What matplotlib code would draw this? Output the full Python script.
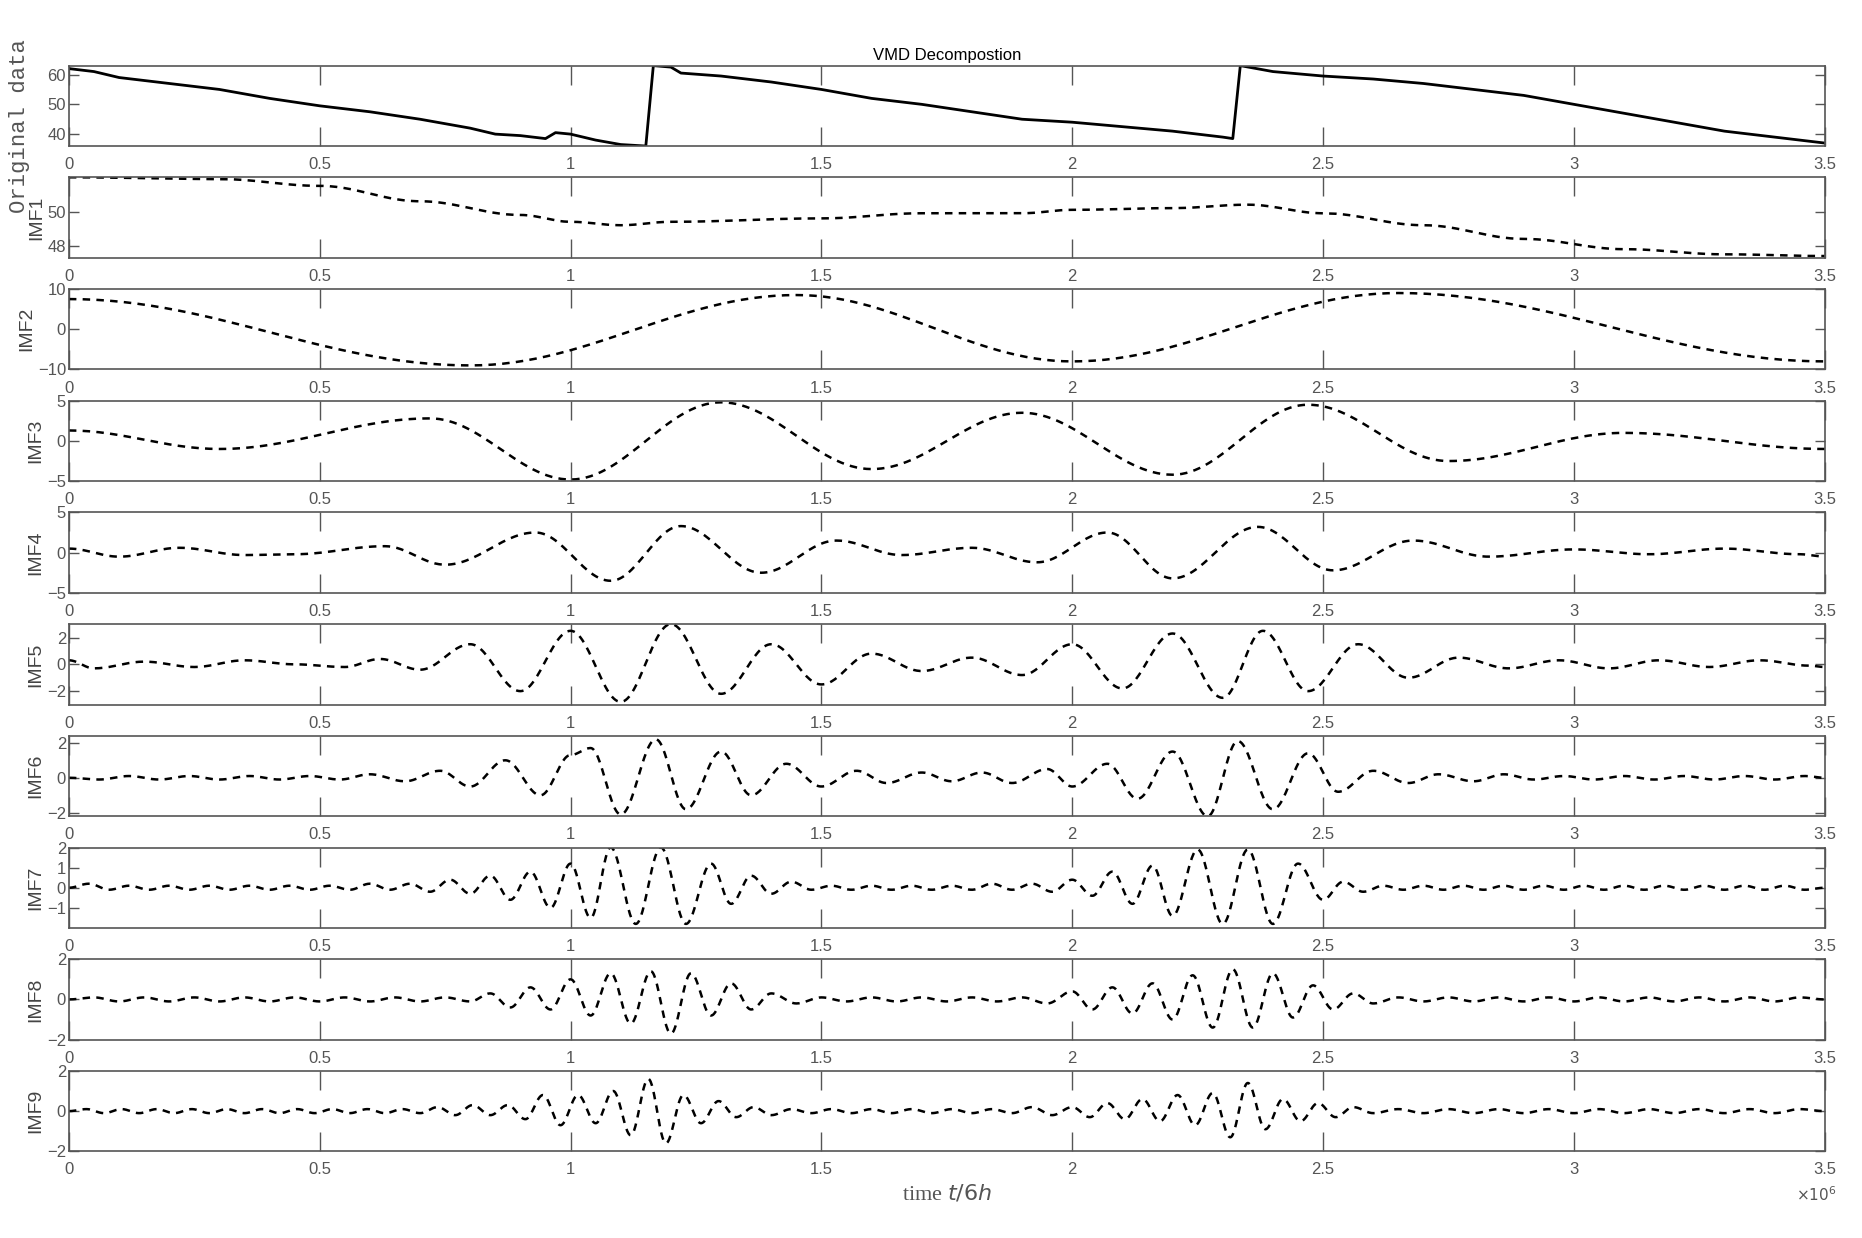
import numpy as np
import matplotlib.pyplot as plt

# ---- data (x in units of 1e6, 6h steps) ----
orig_x = [0, 0.05, 0.1, 0.2, 0.3, 0.4, 0.5, 0.6, 0.7, 0.8, 0.85, 0.9, 0.95, 0.97, 1.0, 1.05, 1.1, 1.15,
          1.165, 1.2, 1.22, 1.3, 1.4, 1.5, 1.6, 1.7, 1.8, 1.9, 2.0, 2.1, 2.2, 2.3, 2.32,
          2.335, 2.4, 2.5, 2.6, 2.7, 2.8, 2.9, 3.0, 3.1, 3.2, 3.3, 3.4, 3.5]
orig_y = [62, 61, 59, 57, 55, 52, 49.5, 47.5, 45, 42, 40, 39.5, 38.5, 40.5, 40, 38, 36.5, 36,
          63, 62.5, 60.5, 59.5, 57.5, 55, 52, 50, 47.5, 45, 44, 42.5, 41, 39, 38.5,
          63, 61, 59.5, 58.5, 57, 55, 53, 50, 47, 44, 41, 39, 37]

imf1_x = [0, 0.3, 0.5, 0.7, 0.9, 1.0, 1.1, 1.2, 1.5, 1.7, 1.9, 2.0, 2.2, 2.35, 2.5, 2.7, 2.9, 3.1, 3.3, 3.5]
imf1_y = [52, 51.9, 51.5, 50.6, 49.8, 49.4, 49.2, 49.4, 49.6, 49.9, 49.9, 50.1, 50.2, 50.4, 49.9, 49.2, 48.4, 47.8, 47.5, 47.4]

imf2_x = [0, 0.8, 1.45, 2.0, 2.65, 3.5]
imf2_y = [7.5, -9, 8.5, -8, 9, -8]

imf3_x = [0, 0.3, 0.72, 1.0, 1.3, 1.6, 1.9, 2.2, 2.47, 2.75, 3.1, 3.5]
imf3_y = [1.3, -1, 2.8, -4.8, 4.8, -3.5, 3.5, -4.2, 4.5, -2.5, 1, -1]

imf4_x = [0, 0.1, 0.22, 0.35, 0.45, 0.63, 0.75, 0.93, 1.08, 1.22, 1.38, 1.53, 1.66, 1.8, 1.93,
          2.07, 2.2, 2.37, 2.52, 2.68, 2.83, 3.0, 3.15, 3.3, 3.45, 3.5]
imf4_y = [0.5, -0.5, 0.6, -0.3, -0.2, 0.8, -1.5, 2.5, -3.5, 3.3, -2.5, 1.5, -0.3, 0.6, -1.2,
          2.5, -3.2, 3.2, -2.2, 1.5, -0.5, 0.4, -0.2, 0.5, -0.2, -0.5]

imf5_x = [0, 0.05, 0.15, 0.25, 0.35, 0.45, 0.55, 0.62, 0.7, 0.8, 0.9, 1.0, 1.1, 1.2, 1.3, 1.4, 1.5,
          1.6, 1.7, 1.8, 1.9, 2.0, 2.1, 2.2, 2.3, 2.38, 2.47, 2.57, 2.67, 2.77, 2.87, 2.97, 3.07,
          3.17, 3.27, 3.37, 3.47, 3.5]
imf5_y = [0.3, -0.3, 0.2, -0.2, 0.3, 0, -0.2, 0.4, -0.4, 1.5, -2, 2.5, -2.8, 3, -2.2, 1.5, -1.5,
          0.8, -0.5, 0.5, -0.8, 1.5, -1.8, 2.3, -2.5, 2.5, -2, 1.5, -1, 0.5, -0.3, 0.3, -0.3,
          0.3, -0.2, 0.3, -0.1, -0.2]

imf6_x = [0, 0.06, 0.12, 0.18, 0.24, 0.3, 0.36, 0.42, 0.48, 0.54, 0.6, 0.67, 0.74, 0.8, 0.87, 0.94,
          1.0, 1.04, 1.1, 1.17, 1.23, 1.3, 1.36, 1.43, 1.5, 1.57, 1.63, 1.7, 1.76, 1.82, 1.88, 1.95,
          2.0, 2.07, 2.13, 2.2, 2.27, 2.33, 2.4, 2.47, 2.53, 2.6, 2.67, 2.73, 2.8, 2.86, 2.92, 2.98,
          3.04, 3.1, 3.16, 3.22, 3.28, 3.34, 3.4, 3.46, 3.5]
imf6_y = [0, -0.1, 0.1, -0.1, 0.1, -0.1, 0.1, -0.1, 0.1, -0.1, 0.2, -0.2, 0.4, -0.5, 1, -1,
          1.3, 1.7, -2.1, 2.2, -1.8, 1.5, -1, 0.8, -0.5, 0.4, -0.3, 0.3, -0.2, 0.3, -0.3, 0.5,
          -0.5, 0.8, -1.2, 1.5, -2.2, 2.1, -1.8, 1.4, -0.8, 0.4, -0.3, 0.2, -0.2, 0.2, -0.1, 0.1,
          -0.1, 0.1, -0.1, 0.1, -0.1, 0.1, -0.1, 0.1, 0]

imf7_x = [0, 0.04, 0.08, 0.12, 0.16, 0.2, 0.24, 0.28, 0.32, 0.36, 0.4, 0.44, 0.48, 0.52, 0.56, 0.6,
          0.64, 0.68, 0.72, 0.76, 0.8, 0.84, 0.88, 0.92, 0.96, 1.0, 1.04, 1.08, 1.13, 1.18, 1.23,
          1.28, 1.32, 1.36, 1.4, 1.44, 1.48, 1.52, 1.56, 1.6, 1.64, 1.68, 1.72, 1.76, 1.8, 1.84,
          1.88, 1.92, 1.96, 2.0, 2.04, 2.08, 2.12, 2.16, 2.2, 2.25, 2.3, 2.35, 2.4, 2.45, 2.5,
          2.54, 2.58, 2.62, 2.66, 2.7, 2.74, 2.78, 2.82, 2.86, 2.9, 2.94, 2.98, 3.02, 3.06, 3.1,
          3.14, 3.18, 3.22, 3.26, 3.3, 3.34, 3.38, 3.42, 3.46, 3.5]
imf7_y = [0, 0.2, -0.1, 0.1, -0.1, 0.1, -0.1, 0.1, -0.1, 0.1, -0.1, 0.1, -0.1, 0.1, -0.1, 0.2,
          -0.1, 0.2, -0.2, 0.4, -0.3, 0.6, -0.6, 0.8, -1, 1.2, -1.5, 2, -1.8, 2, -1.8,
          1.2, -0.8, 0.6, -0.3, 0.3, -0.1, 0.1, -0.1, 0.1, -0.1, 0.1, -0.1, 0.1, -0.1, 0.2,
          -0.1, 0.2, -0.2, 0.4, -0.4, 0.8, -0.8, 1.1, -1.4, 1.9, -1.8, 1.9, -1.8, 1.2, -0.6,
          0.3, -0.2, 0.1, -0.1, 0.1, -0.1, 0.1, -0.1, 0.1, -0.1, 0.1, -0.1, 0.1, -0.1, 0.1,
          -0.1, 0.1, -0.1, 0.1, -0.1, 0.1, -0.1, 0.1, -0.1, 0]

imf8_x = [0, 0.05, 0.1, 0.15, 0.2, 0.25, 0.3, 0.35, 0.4, 0.45, 0.5, 0.55, 0.6, 0.65, 0.7, 0.75,
          0.8, 0.84, 0.88, 0.92, 0.96, 1.0, 1.04, 1.08, 1.12, 1.16, 1.2, 1.24, 1.28, 1.32, 1.36,
          1.4, 1.45, 1.5, 1.55, 1.6, 1.65, 1.7, 1.75, 1.8, 1.85, 1.9, 1.95, 2.0, 2.04, 2.08,
          2.12, 2.16, 2.2, 2.24, 2.28, 2.32, 2.36, 2.4, 2.44, 2.48, 2.52, 2.56, 2.6, 2.65, 2.7,
          2.75, 2.8, 2.85, 2.9, 2.95, 3.0, 3.05, 3.1, 3.15, 3.2, 3.25, 3.3, 3.35, 3.4, 3.45, 3.5]
imf8_y = [0, 0.1, -0.1, 0.1, -0.1, 0.1, -0.1, 0.1, -0.1, 0.1, -0.1, 0.1, -0.1, 0.1, -0.1, 0.1,
          -0.1, 0.3, -0.4, 0.6, -0.5, 1, -0.8, 1.3, -1.2, 1.4, -1.7, 1.3, -0.8, 0.8, -0.5,
          0.3, -0.2, 0.1, -0.1, 0.1, -0.1, 0.1, -0.1, 0.1, -0.1, 0.1, -0.2, 0.4, -0.5, 0.6,
          -0.7, 0.8, -1, 1.2, -1.4, 1.5, -1.4, 1.3, -0.9, 0.7, -0.5, 0.3, -0.2, 0.1, -0.1,
          0.1, -0.1, 0.1, -0.1, 0.1, -0.1, 0.1, -0.1, 0.1, -0.1, 0.1, -0.1, 0.1, -0.1, 0.1, 0]

imf9_x = [0, 0.035, 0.07, 0.105, 0.14, 0.175, 0.21, 0.245, 0.28, 0.315, 0.35, 0.385, 0.42, 0.455,
          0.49, 0.525, 0.56, 0.595, 0.63, 0.665, 0.7, 0.735, 0.77, 0.805, 0.84, 0.875, 0.91,
          0.945, 0.98, 1.015, 1.05, 1.085, 1.12, 1.155, 1.19, 1.225, 1.26, 1.295, 1.33, 1.365,
          1.4, 1.44, 1.48, 1.52, 1.56, 1.6, 1.64, 1.68, 1.72, 1.76, 1.8, 1.84, 1.88, 1.92, 1.96,
          2.0, 2.035, 2.07, 2.105, 2.14, 2.175, 2.21, 2.245, 2.28, 2.315, 2.35, 2.385, 2.42,
          2.455, 2.49, 2.525, 2.56, 2.6, 2.65, 2.7, 2.75, 2.8, 2.85, 2.9, 2.95, 3.0, 3.05, 3.1,
          3.15, 3.2, 3.25, 3.3, 3.35, 3.4, 3.45, 3.5]
imf9_y = [0, 0.1, -0.1, 0.1, -0.1, 0.1, -0.1, 0.1, -0.1, 0.1, -0.1, 0.1, -0.1, 0.1,
          -0.1, 0.1, -0.1, 0.1, -0.1, 0.1, -0.1, 0.2, -0.2, 0.3, -0.2, 0.3, -0.4, 0.8, -0.7,
          0.8, -0.6, 1.0, -1.2, 1.6, -1.6, 0.8, -0.6, 0.5, -0.3, 0.2, -0.2, 0.1, -0.1, 0.1,
          -0.1, 0.1, -0.1, 0.1, -0.1, 0.1, -0.1, 0.1, -0.1, 0.2, -0.2, 0.2, -0.3, 0.4, -0.4,
          0.6, -0.5, 0.8, -0.7, 0.9, -1.3, 1.4, -0.9, 0.6, -0.5, 0.4, -0.3, 0.2, -0.1, 0.1,
          -0.1, 0.1, -0.1, 0.1, -0.1, 0.1, -0.1, 0.1, -0.1, 0.1, -0.1, 0.1, -0.1, 0.1, -0.1,
          0.1, 0]

labels = ['Original data', 'IMF1', 'IMF2', 'IMF3', 'IMF4', 'IMF5', 'IMF6', 'IMF7', 'IMF8', 'IMF9']
ylims = [(36, 63), (47.3, 52), (-10, 10), (-5, 5), (-5, 5), (-3, 3), (-2.2, 2.4), (-2, 2), (-2, 2), (-2, 2)]
yticks = [[40, 50, 60], [48, 50], [-10, 0, 10], [-5, 0, 5], [-5, 0, 5], [-2, 0, 2], [-2, 0, 2],
          [-1, 0, 1, 2], [-2, 0, 2], [-2, 0, 2]]
xs = [orig_x, imf1_x, imf2_x, imf3_x, imf4_x, imf5_x, imf6_x, imf7_x, imf8_x, imf9_x]
ys = [orig_y, imf1_y, imf2_y, imf3_y, imf4_y, imf5_y, imf6_y, imf7_y, imf8_y, imf9_y]


def smooth_join(x, y, n=30):
    # half-cosine between consecutive read points
    px, py = [], []
    for i in range(len(x) - 1):
        t = np.linspace(0, 1, n, endpoint=False)
        w = (1 - np.cos(np.pi * t)) / 2
        px.extend(x[i] + (x[i + 1] - x[i]) * t)
        py.extend(y[i] + (y[i + 1] - y[i]) * w)
    px.append(x[-1])
    py.append(y[-1])
    return px, py


plt.rcParams['font.family'] = 'Liberation Sans'
gray = '#555555'
fig = plt.figure(figsize=(18.62, 12.38), dpi=100)
left, right = 0.037, 0.98
top, bottom = 0.947, 0.07
ph = 0.72
h = (top - bottom) / (9 + ph)
for i in range(10):
    ax = fig.add_axes([left, top - i * h - ph * h, right - left, h * ph])
    if i == 0:
        ax.plot(xs[i], ys[i], color='black', lw=2)
    else:
        px, py = smooth_join(xs[i], ys[i])
        ax.plot(px, py, color='black', lw=1.8, linestyle=(0, (3, 2.5)))
    ax.set_xlim(0, 3.5)
    ax.set_ylim(*ylims[i])
    ax.set_xticks([0, 0.5, 1, 1.5, 2, 2.5, 3, 3.5])
    ax.set_xticklabels(['0', '0.5', '1', '1.5', '2', '2.5', '3', '3.5'])
    ax.set_yticks(yticks[i])
    ax.tick_params(axis='x', direction='in', top=True, length=14, width=1, colors=gray,
                   labelsize=12, pad=8)
    ax.tick_params(axis='y', direction='in', right=True, length=7, width=1, colors=gray,
                   labelsize=12, pad=2)
    for s in ax.spines.values():
        s.set_color(gray)
        s.set_linewidth(1.2)
    if i == 0:
        ax.set_title('VMD Decompostion', fontsize=12, pad=4)
        ax.set_ylabel(labels[i], family='Liberation Mono', fontsize=16, color=gray, labelpad=2)
        ax.yaxis.set_label_coords(-0.022, 0.25)
    else:
        ax.set_ylabel(labels[i], fontsize=14, color='#444444', labelpad=2)
    if i == 9:
        ax.set_xlabel(r'time $\it{t/6h}$', family='Liberation Serif', fontsize=16, color=gray)
        ax.text(0.995, -0.42, r'$\times10^6$', transform=ax.transAxes, ha='center', va='top',
                fontsize=11, color=gray)

fig.savefig('out.png', dpi=100)
